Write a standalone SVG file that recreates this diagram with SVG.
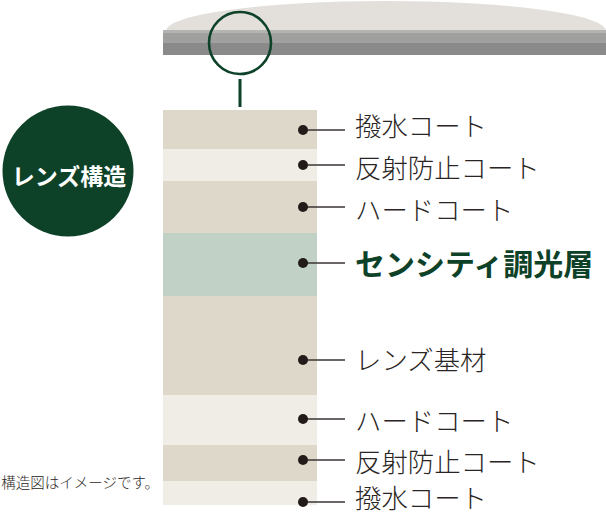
<svg xmlns="http://www.w3.org/2000/svg" width="606" height="515" viewBox="0 0 606 515">
<style>
.lbl{font-family:"Noto Sans CJK JP","Noto Sans",sans-serif;font-size:26.4px;font-weight:300;fill:#2a2523}
.hl{font-family:"Noto Sans CJK JP","Noto Sans",sans-serif;font-size:30px;font-weight:700;fill:#0d4228}
.lead{stroke:#3a3433;stroke-width:1.5}
.dot{fill:#231b1a}
.l1{fill:#ded8cb}
.l2{fill:#f0ede6}
</style>
<rect width="606" height="515" fill="#ffffff"/>
<g id="lens">
<path d="M166 31 A220 30 0 0 1 606 31 Z" fill="#e3e0dc"/>
<rect x="163" y="30" width="443" height="4" fill="#b4b4b2"/>
<rect x="163" y="33" width="443" height="10" fill="#a0a19f"/>
<rect x="163" y="43" width="443" height="12" fill="#8a8a8a"/>
</g>
<g id="magnifier">
<circle cx="240" cy="43" r="31" fill="none" stroke="#0d4228" stroke-width="2.6"/>
<line x1="240" y1="79" x2="240" y2="107" stroke="#0d4228" stroke-width="3"/>
</g>
<g id="title">
<circle cx="68" cy="171" r="65.5" fill="#0d4228"/>
<text x="69" y="185" text-anchor="middle" style="font-family:'Noto Sans CJK JP','Noto Sans',sans-serif;font-size:23px;font-weight:700;fill:#ffffff">レンズ構造</text>
</g>
<g id="layers">
<rect class="l1" x="163" y="110" width="154" height="39"/>
<rect class="l2" x="163" y="149" width="154" height="32"/>
<rect class="l1" x="163" y="181" width="154" height="52"/>
<rect x="163" y="233" width="154" height="63" fill="#c2d1c5"/>
<rect class="l1" x="163" y="296" width="154" height="99"/>
<rect class="l2" x="163" y="395" width="154" height="50"/>
<rect class="l1" x="163" y="445" width="154" height="36"/>
<rect class="l2" x="163" y="481" width="154" height="24"/>
</g>
<g id="connectors">
<line class="lead" x1="303" y1="130" x2="345" y2="130"/>
<line class="lead" x1="303" y1="165" x2="345" y2="165"/>
<line class="lead" x1="303" y1="207" x2="345" y2="207"/>
<line class="lead" x1="303" y1="263" x2="345" y2="263"/>
<line class="lead" x1="303" y1="360" x2="345" y2="360"/>
<line class="lead" x1="303" y1="419" x2="345" y2="419"/>
<line class="lead" x1="303" y1="460" x2="345" y2="460"/>
<line class="lead" x1="303" y1="502" x2="345" y2="502"/>
<circle class="dot" cx="303" cy="130" r="5"/>
<circle class="dot" cx="303" cy="165" r="5"/>
<circle class="dot" cx="303" cy="207" r="5"/>
<circle class="dot" cx="303" cy="263" r="5"/>
<circle class="dot" cx="303" cy="360" r="5"/>
<circle class="dot" cx="303" cy="419" r="5"/>
<circle class="dot" cx="303" cy="460" r="5"/>
<circle class="dot" cx="303" cy="502" r="5"/>
</g>
<g id="labels">
<text class="lbl" x="355" y="136">撥水コート</text>
<text class="lbl" x="355" y="178">反射防止コート</text>
<text class="lbl" x="355" y="220">ハードコート</text>
<text class="hl" x="355" y="275">センシティ調光層</text>
<text class="lbl" x="355" y="370">レンズ基材</text>
<text class="lbl" x="355" y="431">ハードコート</text>
<text class="lbl" x="355" y="472">反射防止コート</text>
<text class="lbl" x="355" y="508">撥水コート</text>
</g>
<g id="note">
<text x="159" y="488" text-anchor="end" style="font-family:'Noto Sans CJK JP','Noto Sans',sans-serif;font-size:14.5px;font-weight:300;fill:#2a2523">構造図はイメージです。</text>
</g>
</svg>
